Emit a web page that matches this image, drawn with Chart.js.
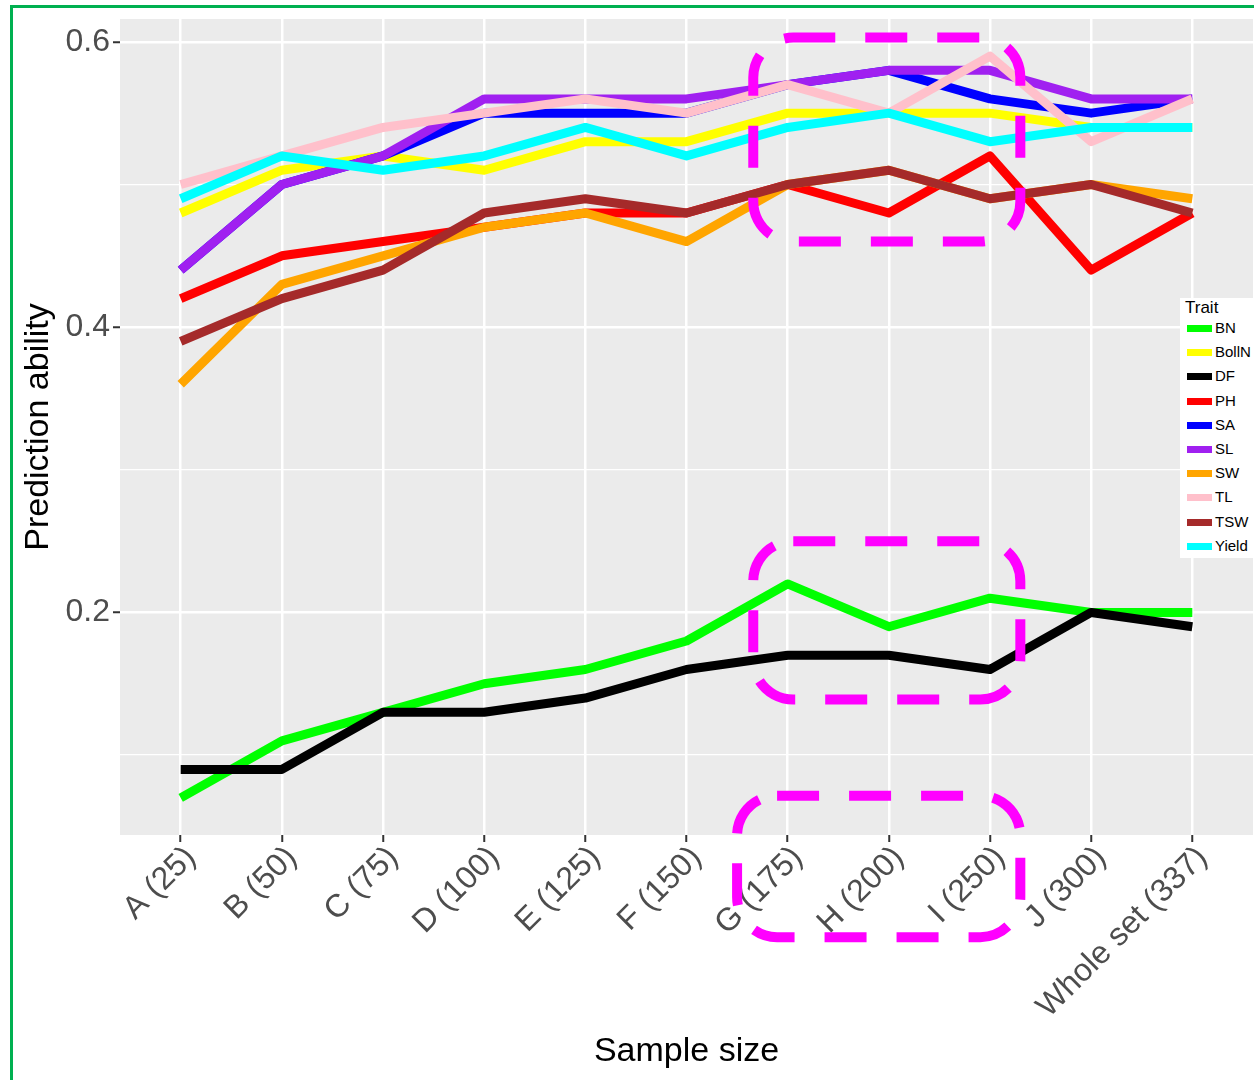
<!DOCTYPE html>
<html>
<head>
<meta charset="utf-8">
<script src="https://cdn.jsdelivr.net/npm/chart.js@4.4.1/dist/chart.umd.min.js"></script>
<style>
  html, body { margin:0; padding:0; background:#fff; }
  #wrap { position:relative; width:1254px; height:1080px; overflow:hidden; font-family:"Liberation Sans", Arial, sans-serif; }
  #c { position:absolute; left:0; top:0; }
  #frame { position:absolute; left:10px; top:5px; width:1300px; height:1200px; border-left:3px solid #00b050; border-top:3px solid #00b050; pointer-events:none; }
  #legend { position:absolute; left:1180px; top:298px; width:74px; height:260px; background:#fff; }
  #legend .t { position:absolute; left:5px; top:0px; font-size:17px; color:#000; }
  #legend .it { position:absolute; left:7px; height:20px; width:70px; }
  #legend .sw { position:absolute; left:0; top:6px; width:25px; height:7px; }
  #legend .lb { position:absolute; left:28px; top:0px; font-size:15px; color:#000; }
</style>
</head>
<body>
<div id="wrap">
  <canvas id="c" width="1254" height="1080"></canvas>
  <div id="frame"></div>
  <div id="legend"></div>
</div>
<script>
const categories = ['A (25)','B (50)','C (75)','D (100)','E (125)','F (150)','G (175)','H (200)','I (250)','J (300)','Whole set (337)'];
const traits = ['BN','BollN','DF','PH','SA','SL','SW','TL','TSW','Yield'];
const colors = ['#00ff00','#ffff00','#000000','#ff0000','#0000ff','#a020f0','#ffa500','#ffc0cb','#a52a2a','#00ffff'];
const BN    = [0.07,0.11,0.13,0.15,0.16,0.18,0.22,0.19,0.21,0.20,0.20];
const BollN = [0.48,0.51,0.52,0.51,0.53,0.53,0.55,0.55,0.55,0.54,0.54];
const DF    = [0.09,0.09,0.13,0.13,0.14,0.16,0.17,0.17,0.16,0.20,0.19];
const PH    = [0.42,0.45,0.46,0.47,0.48,0.48,0.50,0.48,0.52,0.44,0.48];
const SA    = [0.44,0.50,0.52,0.55,0.55,0.55,0.57,0.58,0.56,0.55,0.56];
const SL    = [0.44,0.50,0.52,0.56,0.56,0.56,0.57,0.58,0.58,0.56,0.56];
const SW    = [0.36,0.43,0.45,0.47,0.48,0.46,0.50,0.51,0.49,0.50,0.49];
const TL    = [0.50,0.52,0.54,0.55,0.56,0.55,0.57,0.55,0.59,0.53,0.56];
const TSW   = [0.39,0.42,0.44,0.48,0.49,0.48,0.50,0.51,0.49,0.50,0.48];
const Yield = [0.49,0.52,0.51,0.52,0.54,0.52,0.54,0.55,0.53,0.54,0.54];
const yTicks = [0.1,0.2,0.3,0.4,0.5,0.6];
const yLabels = ['', '0.2', '', '0.4', '', '0.6'];
// annotation boxes in data units: [x0, x1, y0, y1]
const boxes = [[5.66,8.30,0.603,0.460],[5.66,8.30,0.250,0.139],[5.50,8.30,0.0716,-0.0276]];

const seriesList = [BN,BollN,DF,PH,SA,SL,SW,TL,TSW,Yield];
const datasets = traits.map((t,i)=>({
  label:t,
  data: seriesList[i].map((v,j)=>({x:j,y:v})),
  borderColor: colors[i],
  backgroundColor: colors[i],
  borderWidth: 9,
  pointRadius: 0,
  tension: 0,
  borderCapStyle: 'butt',
  borderJoinStyle: 'round',
  fill: false,
  order: traits.length - 1 - i
}));

const panelBg = {
  id:'panelBg',
  beforeDraw(chart){
    const a = chart.chartArea, ctx = chart.ctx;
    ctx.save(); ctx.fillStyle = '#ebebeb';
    ctx.fillRect(a.left, a.top, a.right - a.left, a.bottom - a.top);
    ctx.restore();
  }
};
const boxPlugin = {
  id:'boxPlugin',
  afterDraw(chart){
    const ctx = chart.ctx, xs = chart.scales.x, ys = chart.scales.y;
    ctx.save();
    ctx.strokeStyle = '#ff00ff'; ctx.lineWidth = 10; ctx.setLineDash([42,30]);
    boxes.forEach(b=>{
      const x0 = xs.getPixelForValue(b[0]), x1 = xs.getPixelForValue(b[1]);
      const y0 = ys.getPixelForValue(b[2]), y1 = ys.getPixelForValue(b[3]);
      ctx.beginPath();
      ctx.roundRect(x0, y0, x1 - x0, y1 - y0, 40);
      ctx.stroke();
    });
    ctx.restore();
  }
};

const FF = '"Liberation Sans", Arial, sans-serif';
new Chart(document.getElementById('c'), {
  type:'line',
  data:{ datasets },
  plugins:[panelBg, boxPlugin],
  options:{
    responsive:false,
    animation:false,
    events:[],
    layout:{ padding:{ top:18, right:1, left:0, bottom:0 } },
    plugins:{ legend:{display:false}, tooltip:{enabled:false} },
    scales:{
      x:{
        type:'linear', min:-0.6, max:10.6,
        afterBuildTicks(s){ s.ticks = categories.map((_,i)=>({value:i})); },
        afterFit(s){ s.height = 245; },
        ticks:{ autoSkip:false, minRotation:45, maxRotation:45, padding:-3, labelOffset:10,
          color:'#4d4d4d', font:{ family:FF, size:32 },
          callback:(v)=>categories[v] },
        grid:{ color:'#ffffff', lineWidth:2.5, tickColor:'#333333', tickWidth:2, tickLength:7 },
        border:{ display:false },
        title:{ display:true, text:'Sample size', color:'#000', padding:{top:0,bottom:8},
          font:{ family:FF, size:34 } }
      },
      y:{
        type:'linear', min:0.044, max:0.616,
        afterBuildTicks(s){ s.ticks = yTicks.map(v=>({value:v})); },
        afterFit(s){ s.width = 120; },
        ticks:{ autoSkip:false, padding:3, color:'#4d4d4d',
          font:{ family:FF, size:32, lineHeight:1.0 },
          callback:(v,i)=>yLabels[i] },
        grid:{ color:'#ffffff',
          lineWidth:(c)=> (yLabels[c.index] ? 2.5 : 1.3),
          tickColor:(c)=> (yLabels[c.index] ? '#333333' : 'rgba(0,0,0,0)'),
          tickWidth:2, tickLength:7 },
        border:{ display:false },
        title:{ display:true, text:'Prediction ability', color:'#000', padding:{top:18,bottom:0},
          font:{ family:FF, size:34 } }
      }
    }
  }
});

const lg = document.getElementById('legend');
const tt = document.createElement('div'); tt.className='t'; tt.textContent='Trait'; lg.appendChild(tt);
traits.forEach((t,i)=>{
  const it = document.createElement('div'); it.className='it'; it.style.top = (21 + i*24.2) + 'px';
  const sw = document.createElement('div'); sw.className='sw'; sw.style.background = colors[i];
  const lb = document.createElement('div'); lb.className='lb'; lb.textContent = t;
  it.appendChild(sw); it.appendChild(lb); lg.appendChild(it);
});
</script>
</body>
</html>
